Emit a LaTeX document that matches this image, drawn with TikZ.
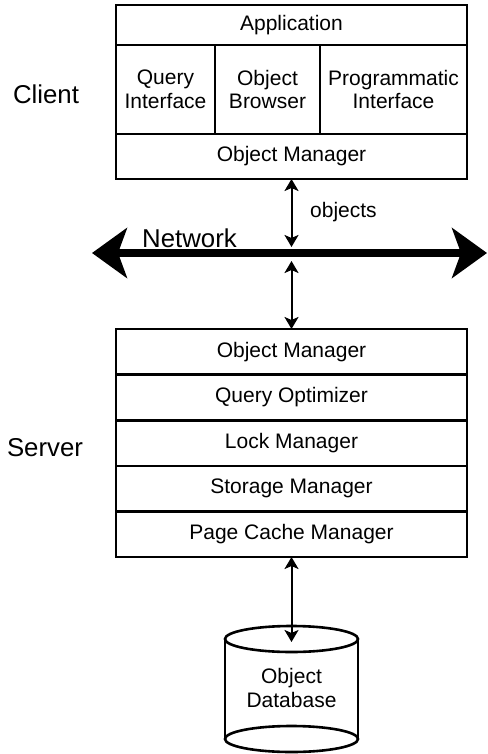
\documentclass[tikz,border=0pt]{standalone}
\usepackage{fontspec}
\setmainfont{Liberation Sans}
\usetikzlibrary{arrows.meta,positioning}

\begin{document}
\begin{tikzpicture}[x=1pt,y=-1pt,font=\fontsize{21}{23.5}\selectfont,
  cell/.style={draw,line width=2.6pt,outer sep=0pt,inner sep=0pt,align=center,
    minimum width=351pt,minimum height=45.6pt},
  biglabel/.style={font=\fontsize{25.8}{30}\selectfont,inner sep=0pt},
  link/.style={line width=2pt,
    {Stealth[length=12pt,width=14pt,inset=3pt]}-{Stealth[length=12pt,width=14pt,inset=3pt]}}]
  \useasboundingbox (0,0) rectangle (487,754);

  % client stack
  \node[cell,minimum height=40pt] (app) at (291.5,25) {Application};
  \node[cell,minimum width=99pt,minimum height=89pt,below right=0pt of app.south west] (qi) {Query\\Interface};
  \node[cell,minimum width=105pt,minimum height=89pt,right=0pt of qi] (ob) {Object\\Browser};
  \node[cell,minimum width=147pt,minimum height=89pt,right=0pt of ob] (pi) {Programmatic\\Interface};
  \node[cell,minimum height=45pt,below right=0pt of qi.south west] (com) {Object Manager};
  \node[biglabel] (client) at (46,94) {Client};

  % network
  \coordinate (netL) at (92,253);
  \coordinate (netR) at (487,253);
  \draw[line width=8pt,{Stealth[length=35pt,width=50pt,inset=9pt]}-{Stealth[length=35pt,width=50pt,inset=9pt]}] (netL) -- (netR);
  \node[biglabel,anchor=base west] (net) at (142,247) {Network};
  \coordinate (netA) at (291.5,247);
  \coordinate (netB) at (291.5,261);
  \draw[link] (com) -- (netA);
  \node[inner sep=0pt,anchor=west] (objs) at (310,212) {objects};

  % server stack
  \node[cell] (som) at (291.5,351.8) {Object Manager};
  \node[cell,below=0pt of som] (qo) {Query Optimizer};
  \node[cell,below=0pt of qo] (lm) {Lock Manager};
  \node[cell,below=0pt of lm] (sm) {Storage Manager};
  \node[cell,below=0pt of sm] (pcm) {Page Cache Manager};
  \node[biglabel] (server) at (45,448) {Server};
  \draw[link] (netB) -- (som);

  % database
  \draw[line width=2.6pt] (225,639) -- (225,739) (358,639) -- (358,739);
  \draw[line width=2.6pt,fill=white] (291.5,639) ellipse [x radius=66.5,y radius=13];
  \draw[line width=2.6pt] (291.5,739) ellipse [x radius=66.5,y radius=13];
  \node[align=center,inner sep=0pt] (db) at (291.5,688) {Object\\Database};
  \coordinate (dbtop) at (291.5,642);
  \draw[link] (pcm) -- (dbtop);
\end{tikzpicture}
\end{document}
